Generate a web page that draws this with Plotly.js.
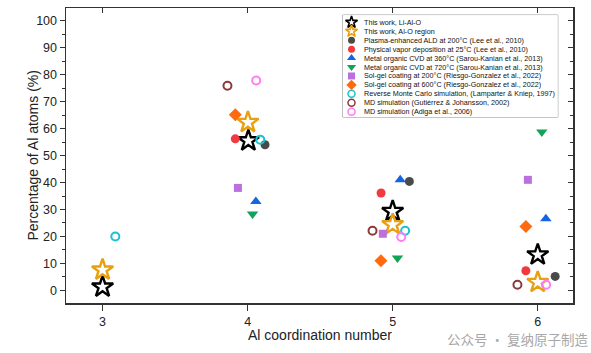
<!DOCTYPE html>
<html>
<head>
<meta charset="utf-8">
<script src="https://cdn.plot.ly/plotly-3.0.1.min.js"></script>
<style>html,body{margin:0;padding:0;background:#fff;}#chart{width:591px;height:353px;}</style>
</head>
<body>
<div id="chart"></div>
<script>
// ---- data ----
var seriesNames = [
  "This work, Li-Al-O",
  "This work, Al-O region",
  "Plasma-enhanced ALD at 200°C (Lee et al., 2010)",
  "Physical vapor deposition at 25°C (Lee et al., 2010)",
  "Metal organic CVD at 360°C (Sarou-Kanian et al., 2013)",
  "Metal organic CVD at 720°C (Sarou-Kanian et al., 2013)",
  "Sol-gel coating at 200°C (Riesgo-Gonzalez et al., 2022)",
  "Sol-gel coating at 600°C (Riesgo-Gonzalez et al., 2022)",
  "Reverse Monte Carlo simulation, (Lamparter & Kniep, 1997)",
  "MD simulation (Gutiérrez & Johansson, 2002)",
  "MD simulation (Adiga et al., 2006)"
];
var liAlO_x = [3.0, 4.005, 5.0, 6.0];
var liAlO_y = [1.3, 55.5, 29.3, 13.2];
var alO_x = [3.0, 4.002, 5.0, 6.0];
var alO_y = [7.6, 62.3, 24.4, 3.0];
var peald_x = [4.12, 5.115, 6.12];
var peald_y = [54.0, 40.4, 5.2];
var pvd_x = [3.915, 4.92, 5.918];
var pvd_y = [56.2, 36.1, 7.3];
var mocvd360_x = [4.057, 5.052, 6.056];
var mocvd360_y = [33.0, 41.0, 26.6];
var mocvd720_x = [4.034, 5.033, 6.028];
var mocvd720_y = [28.3, 12.0, 58.7];
var solgel200_x = [3.933, 4.932, 5.932];
var solgel200_y = [38.0, 21.0, 41.0];
var solgel600_x = [3.915, 4.919, 5.918];
var solgel600_y = [65.1, 11.0, 23.7];
var rmc_x = [3.088, 4.087, 5.086];
var rmc_y = [20.0, 55.9, 22.1];
var mdG_x = [3.861, 4.861, 5.86];
var mdG_y = [75.9, 22.1, 2.1];
var mdA_x = [4.059, 5.059, 6.058];
var mdA_y = [77.8, 19.8, 2.1];
var xTicks = [3, 4, 5, 6];
var yTicks = [0, 10, 20, 30, 40, 50, 60, 70, 80, 90, 100];

// ---- styles ----
var seriesData = [
  [liAlO_x, liAlO_y], [alO_x, alO_y], [peald_x, peald_y], [pvd_x, pvd_y],
  [mocvd360_x, mocvd360_y], [mocvd720_x, mocvd720_y], [solgel200_x, solgel200_y],
  [solgel600_x, solgel600_y], [rmc_x, rmc_y], [mdG_x, mdG_y], [mdA_x, mdA_y]
];
var styles = [
  {symbol: "star-open", color: "#000000", size: 16, lw: 2.4, ls: 9, llw: 1.6},
  {symbol: "star-open", color: "#E8A010", size: 16, lw: 2.4, ls: 9, llw: 1.6},
  {symbol: "circle", color: "#4A4A4A", size: 9, lw: 0, ls: 7},
  {symbol: "circle", color: "#F2393E", size: 9, lw: 0, ls: 7},
  {symbol: "triangle-up", color: "#1565E0", size: 10, lw: 0, ls: 8},
  {symbol: "triangle-down", color: "#12A35A", size: 10, lw: 0, ls: 8},
  {symbol: "square", color: "#BC6FDF", size: 8, lw: 0, ls: 7},
  {symbol: "diamond", color: "#FF6A0E", size: 10, lw: 0, ls: 8},
  {symbol: "circle-open", color: "#18C3CF", size: 8, lw: 2, ls: 7, llw: 1.5},
  {symbol: "circle-open", color: "#8B3A3A", size: 8, lw: 2, ls: 7, llw: 1.5},
  {symbol: "circle-open", color: "#FF7CF5", size: 8, lw: 2, ls: 7, llw: 1.5}
];

var traces = [];
seriesData.forEach(function (d, i) {
  var s = styles[i];
  traces.push({
    type: "scatter", mode: "markers", x: d[0], y: d[1], name: seriesNames[i],
    showlegend: false, cliponaxis: false,
    marker: {symbol: s.symbol, size: s.size, color: s.color,
      line: {color: s.color, width: s.lw}}
  });
});
// invisible holders so the mirrored top / right axes are drawn
traces.push({type: "scatter", mode: "markers", x: liAlO_x, y: liAlO_y, xaxis: "x2", yaxis: "y",
  showlegend: false, hoverinfo: "skip", marker: {opacity: 0}});
traces.push({type: "scatter", mode: "markers", x: liAlO_x, y: liAlO_y, xaxis: "x", yaxis: "y2",
  showlegend: false, hoverinfo: "skip", marker: {opacity: 0}});

// custom compact legend (legend axes in pixel units)
var legX0 = 0.546, legX1 = 0.970, legY0 = 0.6305, legY1 = 0.976;
var annotations = [];
seriesNames.forEach(function (n, i) {
  var s = styles[i];
  traces.push({
    type: "scatter", mode: "markers", x: [8.7], y: [7.3 + i * 8.94], xaxis: "x3", yaxis: "y3",
    showlegend: false, hoverinfo: "skip", cliponaxis: false,
    marker: {symbol: s.symbol, size: s.ls, color: s.color,
      line: {color: s.color, width: s.llw || 0}}
  });
  annotations.push({
    xref: "x3", yref: "y3", x: 19.2, y: 7.3 + i * 8.94, text: n, showarrow: false,
    xanchor: "left", yanchor: "middle", font: {family: "Liberation Sans, Arial", size: 7.2, color: "#111"}
  });
});
// axis titles
annotations.push({
  xref: "paper", yref: "paper", x: (32 - 66) / 507, y: 0.5, textangle: -90, showarrow: false,
  xanchor: "center", yanchor: "middle", text: "Percentage of Al atoms (%)",
  font: {family: "Liberation Sans, Arial", size: 14, color: "#222"}
});
annotations.push({
  xref: "paper", yref: "paper", x: 0.5, y: -(335 - 303) / 295, showarrow: false,
  xanchor: "center", yanchor: "middle", text: "Al coordination number",
  font: {family: "Liberation Sans, Arial", size: 14, color: "#222"}
});
// watermark
annotations.push({
  xref: "paper", yref: "paper", x: 1.035, y: -(339 - 303) / 295, xanchor: "right", yanchor: "middle",
  text: "公众号 · 复纳原子制造", showarrow: false,
  font: {family: "Noto Sans CJK SC", size: 13.5, color: "#A8A8A8"}
});

var axisFont = {family: "Liberation Sans, Arial", size: 12.5, color: "#222"};
var xr = [2.748, 6.243], yr = [-4.67, 104.7];
var layout = {
  width: 591, height: 353,
  margin: {l: 66, r: 18, t: 8, b: 50},
  paper_bgcolor: "#fff", plot_bgcolor: "#fff",
  showlegend: false,
  xaxis: {
    range: xr, autorange: false, tickvals: xTicks, ticks: "outside", ticklen: 6, tickwidth: 1.2,
    tickcolor: "#333", showline: true, linecolor: "#333", linewidth: 1.5, showgrid: false, zeroline: false,
    tickfont: axisFont
  },
  yaxis: {
    range: yr, autorange: false, tickvals: yTicks, ticks: "outside", ticklen: 5, tickwidth: 1.2,
    tickcolor: "#333", showline: true, linecolor: "#333", linewidth: 1.5, showgrid: false, zeroline: false,
    minor: {dtick: 5, tick0: 0, ticks: "outside", ticklen: 3, tickcolor: "#333", tickwidth: 1, showgrid: false},
    tickfont: axisFont
  },
  xaxis2: {
    overlaying: "x", side: "top", anchor: "y", range: xr, autorange: false, tickvals: xTicks,
    ticks: "inside", ticklen: 5, tickwidth: 1.2, tickcolor: "#333", showticklabels: false,
    showline: true, linecolor: "#333", linewidth: 1.5, showgrid: false, zeroline: false
  },
  yaxis2: {
    overlaying: "y", side: "right", anchor: "x", range: yr, autorange: false, tickvals: yTicks,
    ticks: "inside", ticklen: 5, tickwidth: 1.2, tickcolor: "#333", showticklabels: false,
    minor: {dtick: 5, tick0: 0, ticks: "inside", ticklen: 3, tickcolor: "#333", tickwidth: 1, showgrid: false},
    showline: true, linecolor: "#333", linewidth: 1.5, showgrid: false, zeroline: false
  },
  xaxis3: {domain: [legX0, legX1], anchor: "y3", range: [0, 215], autorange: false, visible: false, fixedrange: true},
  yaxis3: {domain: [legY0, legY1], anchor: "x3", range: [102, 0], autorange: false, visible: false, fixedrange: true},
  shapes: [{type: "rect", xref: "paper", yref: "paper", x0: legX0, x1: legX1, y0: legY0, y1: legY1,
    line: {color: "#8C8C8C", width: 1}, fillcolor: "rgba(0,0,0,0)", layer: "below"}],
  annotations: annotations
};
Plotly.newPlot("chart", traces, layout, {displayModeBar: false, staticPlot: true});
</script>
</body>
</html>
